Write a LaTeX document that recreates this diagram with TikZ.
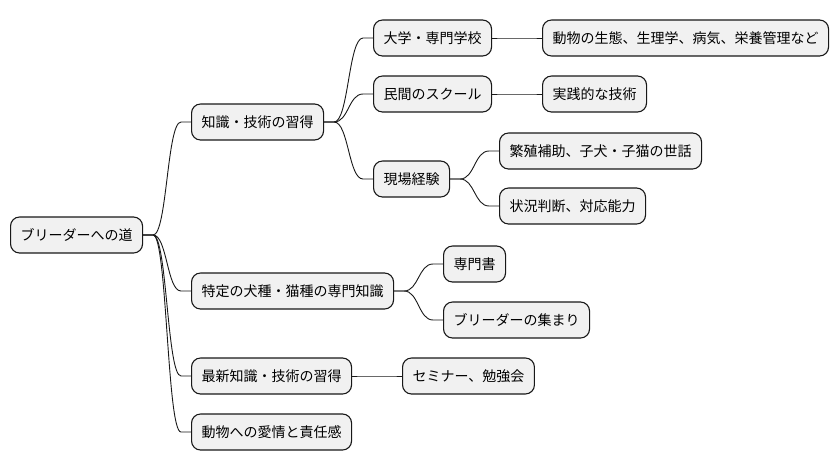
\documentclass[tikz,border=0pt]{standalone}
\usepackage{fontspec}
\setmainfont{Noto Sans CJK JP}
\usetikzlibrary{calc}
\definecolor{nodefill}{HTML}{F1F1F1}
\definecolor{nodeline}{HTML}{181818}
\tikzset{
  mmnode/.style={draw=nodeline, fill=nodefill, line width=1.1pt, rounded corners=9pt,
    minimum height=36pt, inner xsep=10pt, inner ysep=0pt, anchor=west,
    font=\fontsize{14pt}{16pt}\selectfont, text=black},
  link/.style={draw=nodeline, line width=0.9pt}
}
\newcommand\mmedge[2]{\draw[link] let \p1=(#1.east), \p2=(#2.west), \p3=($(\p1)!0.5!(\p2)$) in
  (\p1) -- (\x1+10pt,\y1) .. controls (\x3,\y1) and (\x3,\y2) .. (\x2-10pt,\y2) -- (\p2);}
\begin{document}
\begin{tikzpicture}[x=1pt,y=-1pt]
\useasboundingbox (0,0) rectangle (838,471);
\node[mmnode] (root) at (10,235) {ブリーダーへの道};
\node[mmnode] (k1) at (191,122) {知識・技術の習得};
\node[mmnode] (a1) at (373,38) {大学・専門学校};
\node[mmnode] (a1c) at (542,38) {動物の生態、生理学、病気、栄養管理など};
\node[mmnode] (a2) at (373,94) {民間のスクール};
\node[mmnode] (a2c) at (542,94) {実践的な技術};
\node[mmnode] (a3) at (373,179) {現場経験};
\node[mmnode] (a3a) at (499,151) {繁殖補助、子犬・子猫の世話};
\node[mmnode] (a3b) at (499,206) {状況判断、対応能力};
\node[mmnode] (k2) at (191,291) {特定の犬種・猫種の専門知識};
\node[mmnode] (b1) at (443,264) {専門書};
\node[mmnode] (b2) at (443,320) {ブリーダーの集まり};
\node[mmnode] (k3) at (191,376) {最新知識・技術の習得};
\node[mmnode] (c1) at (402,376) {セミナー、勉強会};
\node[mmnode] (k4) at (191,432) {動物への愛情と責任感};
\mmedge{root}{k1}
\mmedge{root}{k2}
\mmedge{root}{k3}
\mmedge{root}{k4}
\mmedge{k1}{a1}
\mmedge{k1}{a2}
\mmedge{k1}{a3}
\mmedge{a1}{a1c}
\mmedge{a2}{a2c}
\mmedge{a3}{a3a}
\mmedge{a3}{a3b}
\mmedge{k2}{b1}
\mmedge{k2}{b2}
\mmedge{k3}{c1}
\end{tikzpicture}
\end{document}
